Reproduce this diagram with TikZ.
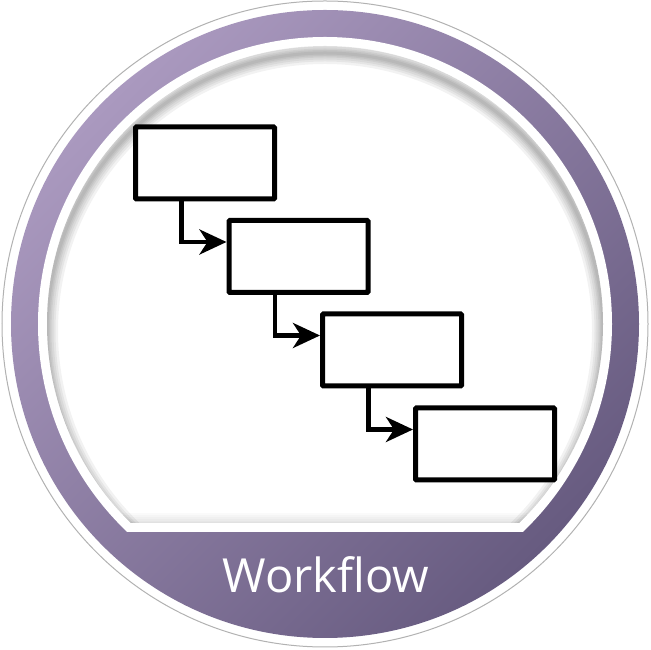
\documentclass[tikz,border=0pt]{standalone}
\usepackage{fontspec}
\newfontfamily\labelfont{Open Sans}
\usetikzlibrary{arrows.meta}
\definecolor{plight}{HTML}{AA99BF}
\definecolor{pdark}{HTML}{675B80}
\tikzset{
  stepbox/.style={draw=black, line width=5pt, fill=white, minimum width=139pt, minimum height=72pt, rounded corners=1pt, inner sep=0pt},
  flowarrow/.style={draw=black, line width=4.5pt, -{Stealth[length=27pt,width=25pt,inset=8pt]}},
}
\begin{document}
\begin{tikzpicture}[x=1pt,y=1pt]
\useasboundingbox (0,0) rectangle (651,650);
% outer light outline
\fill[white] (325,326) circle (323);
\draw[black!30, line width=1pt] (325,326) circle (323);
% purple ring
\shade[top color=plight, bottom color=pdark, shading angle=45] (325,326) circle (314);
% white ring with flat bottom
\begin{scope}
  \clip (0,118) rectangle (651,650);
  \fill[white] (325,326) circle (287);
\end{scope}
% inner area with inner shadow
\begin{scope}
  \clip (0,127) rectangle (651,650);
  \clip (325,326) circle (278);
  \fill[white] (0,0) rectangle (651,650);
  \foreach \w in {22,17,13,9,6,3} {
    \draw[black, opacity=0.05, line width=\w pt] (325,319) circle (278);
    \draw[black, opacity=0.02, line width=\w pt] (0,126) -- (651,126);
  }
\end{scope}
% boxes
\node[stepbox] (b1) at (205,487) {};
\node[stepbox] (b2) at (298.5,393.5) {};
\node[stepbox] (b3) at (392,300) {};
\node[stepbox] (b4) at (485,206) {};
% connectors
\draw[flowarrow] ([xshift=-23.5pt]b1.south) |- ([yshift=14.5pt]b2.west);
\draw[flowarrow] ([xshift=-23.5pt]b2.south) |- ([yshift=14.5pt]b3.west);
\draw[flowarrow] ([xshift=-23.5pt]b3.south) |- ([yshift=14.5pt]b4.west);
% label
\node[anchor=base, text=white, font=\labelfont\fontsize{47}{50}\selectfont, inner sep=0pt] (lbl) at (326,57) {Workflow};
\end{tikzpicture}
\end{document}
